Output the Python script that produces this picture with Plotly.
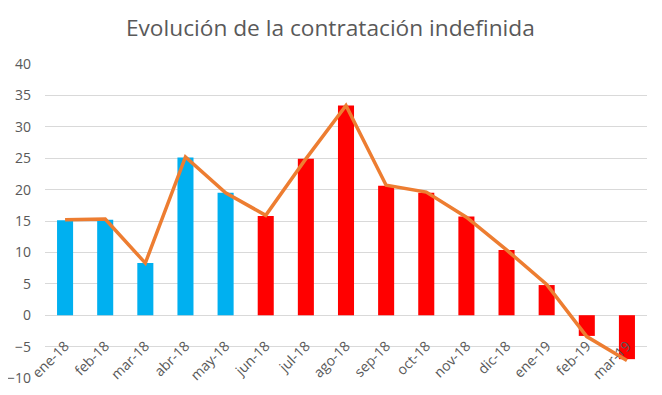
import plotly.graph_objects as go

months = ["ene-18", "feb-18", "mar-18", "abr-18", "may-18", "jun-18", "jul-18",
          "ago-18", "sep-18", "oct-18", "nov-18", "dic-18", "ene-19", "feb-19", "mar-19"]
bar_values = [15.1, 15.2, 8.3, 25.1, 19.5, 15.8, 24.9, 33.4, 20.6, 19.5, 15.7, 10.4, 4.8, -3.3, -7.0]
line_values = [15.2, 15.3, 8.3, 25.2, 19.5, 15.9, 24.9, 33.4, 20.7, 19.6, 15.6, 10.4, 4.9, -3.4, -7.2]
y_ticks = [-10, -5, 0, 5, 10, 15, 20, 25, 30, 35, 40]

BLUE = "#00B0F0"
RED = "#FF0000"
bar_colors = [BLUE if i < 5 else RED for i in range(len(months))]

fig = go.Figure()
fig.add_trace(go.Bar(x=months, y=bar_values, marker=dict(color=bar_colors, line=dict(width=0)),
                     showlegend=False))
fig.add_trace(go.Scatter(x=months, y=line_values, mode="lines",
                         line=dict(color="#ED7D31", width=3.5), showlegend=False))

fig.update_layout(
    width=662, height=395,
    margin=dict(l=37, r=23, t=56, b=25),
    paper_bgcolor="white", plot_bgcolor="white",
    bargap=0.6,
    title=dict(text="Evolución de la contratación indefinida", x=0.487, xanchor="center",
               y=1 - 20 / 395, yref="container", yanchor="middle",
               font=dict(family="Open Sans", size=22.7, color="#595959")),
    font=dict(family="Open Sans", size=13, color="#595959"),
    xaxis=dict(anchor="free", position=0.2, showgrid=False, showline=False, automargin=False,
               ticks="", tickangle=-45, ticklabelstandoff=19,
               tickfont=dict(size=14, color="#595959")),
    yaxis=dict(range=[-10, 40], tickvals=y_ticks, showgrid=True, gridcolor="#D9D9D9",
               gridwidth=1, zeroline=True, zerolinecolor="#D9D9D9", zerolinewidth=1,
               automargin=False,
               ticks="", tickfont=dict(size=14, color="#595959"), ticklabelstandoff=13),
)

fig.write_html("out.html")
